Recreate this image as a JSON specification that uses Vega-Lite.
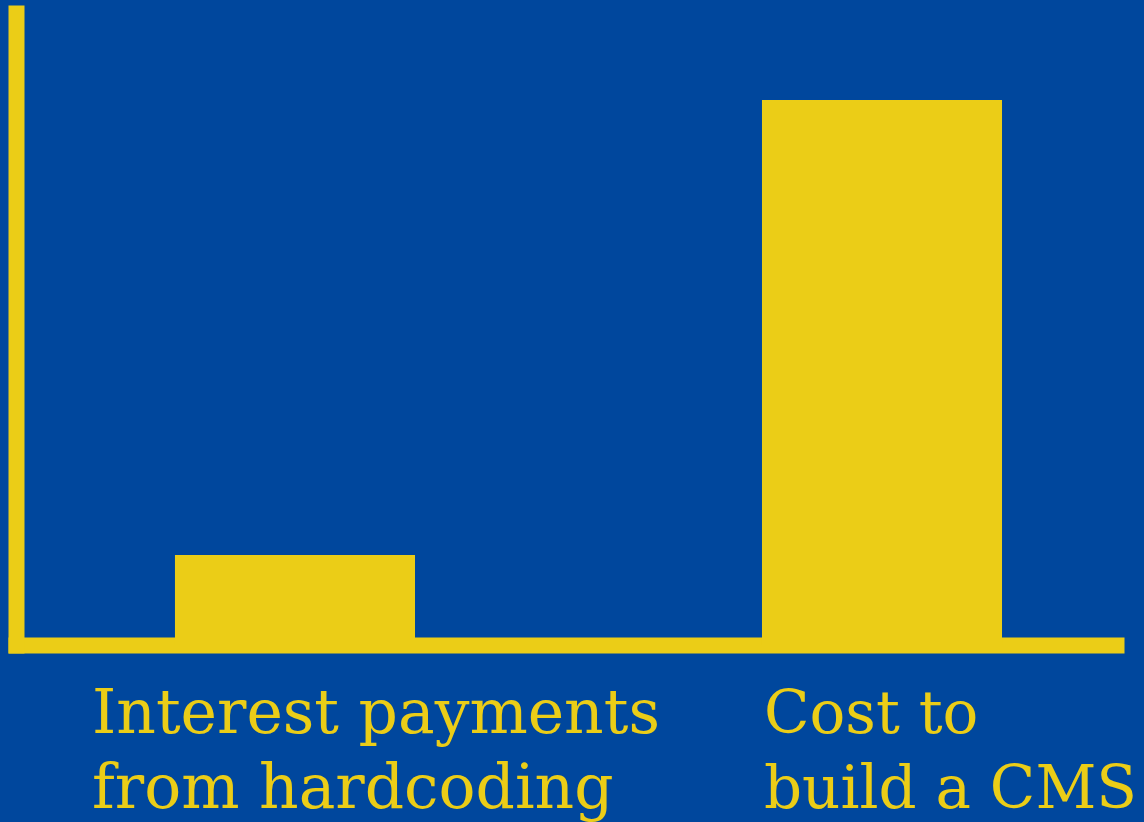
{
  "$schema": "https://vega.github.io/schema/vega-lite/v6.json",
  "width": 1100,
  "height": 632,
  "padding": {"left": 16, "top": 13, "right": 28, "bottom": 177},
  "autosize": {"type": "none"},
  "background": "#00479D",
  "view": {"stroke": null},
  "data": {"values": [
    {"label": "Interest payments|from hardcoding", "value": 14.24},
    {"label": "Cost to|build a CMS", "value": 86.23}
  ]},
  "mark": {"type": "bar", "color": "#EBCD17"},
  "encoding": {
    "x": {
      "field": "label", "type": "nominal", "sort": null,
      "scale": {"paddingInner": 0.5911, "paddingOuter": 0.2325, "align": 0.5824},
      "axis": {
        "title": null, "domain": false, "ticks": false, "labelAngle": 0,
        "labelExpr": "split(datum.value, '|')",
        "labelFont": "DejaVu Serif",
        "labelFontSize": {"condition": {"test": "indexof(datum.value, 'Interest') >= 0", "value": 61.5}, "value": 59.5},
        "labelColor": "#EBCD17",
        "labelAlign": "left", "labelBaseline": "alphabetic",
        "labelPadding": 87, "labelLineHeight": 75,
        "labelOffset": {"condition": {"test": "indexof(datum.value, 'Interest') >= 0", "value": -203}, "value": -118},
        "labelOverlap": false, "labelLimit": 2000, "labelBound": false, "labelFlush": false
      }
    },
    "y": {
      "field": "value", "type": "quantitative",
      "scale": {"domain": [0, 100], "nice": false},
      "axis": {
        "title": null, "values": [0], "labels": false, "ticks": false,
        "domainColor": "#EBCD17", "domainWidth": 16, "domainCap": "square",
        "grid": true, "gridColor": "#EBCD17", "gridWidth": 16, "gridCap": "square", "gridOpacity": 1
      }
    }
  }
}
